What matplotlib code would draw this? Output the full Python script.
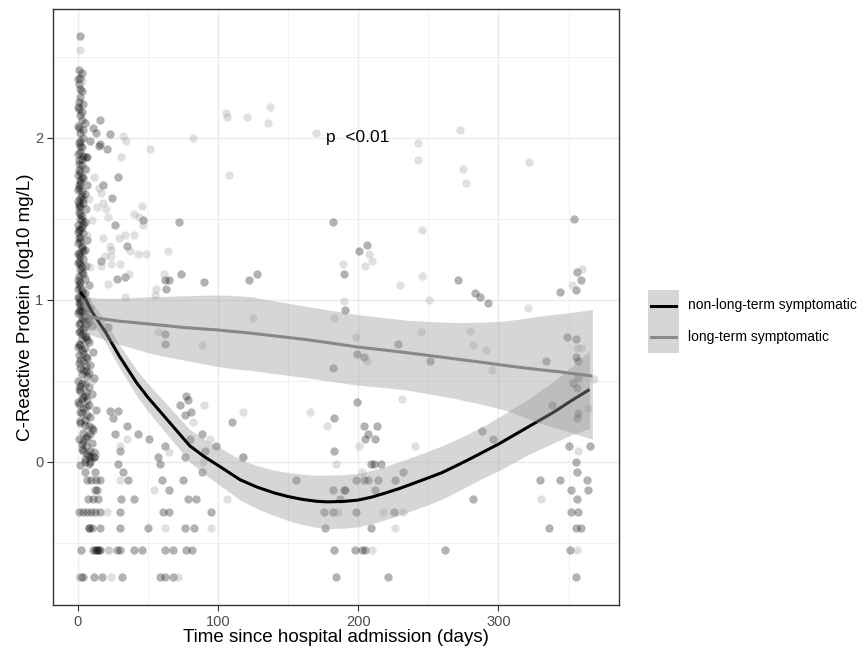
import matplotlib
matplotlib.use("Agg")
import matplotlib.pyplot as plt
from matplotlib.lines import Line2D
from matplotlib.patches import Rectangle

plt.rcParams["font.family"] = ["Liberation Sans", "DejaVu Sans"]

# CRP measurements (days since admission, log10 mg/L), non-long-term symptomatic
NLT_POINTS = [
    # early, dense column
    (2, 2.63), (1, 2.42), (3, 2.40), (2, 2.37), (1, 2.33), (3, 2.29), (2, 2.25), (1, 2.22),
    (4, 2.21), (1, 2.18), (2, 2.14), (3, 2.11), (5, 2.09), (1, 2.06), (4, 2.05), (2, 2.03),
    (4, 2.00), (2, 1.98), (1, 1.97), (3, 1.94), (2, 1.91), (0, 1.90), (6, 1.88), (3, 1.87),
    (1, 1.86), (3, 1.83), (5, 1.81), (1, 1.80), (2, 1.79), (0, 1.77), (4, 1.75), (2, 1.74),
    (2, 1.72), (7, 1.71), (1, 1.69), (0, 1.68), (3, 1.67), (5, 1.65), (2, 1.63), (4, 1.62),
    (0, 1.61), (4, 1.60), (2, 1.58), (1, 1.57), (6, 1.56), (1, 1.54), (3, 1.52), (2, 1.50),
    (3, 1.49), (5, 1.48), (0, 1.46), (3, 1.45), (1, 1.43), (0, 1.42), (4, 1.41), (2, 1.39),
    (7, 1.37), (2, 1.36), (0, 1.35), (3, 1.33), (5, 1.31), (4, 1.30), (1, 1.29), (2, 1.27),
    (4, 1.25), (1, 1.24), (0, 1.23), (6, 1.21), (3, 1.20), (2, 1.19), (3, 1.17), (1, 1.15),
    (5, 1.13), (0, 1.12), (2, 1.11), (8, 1.09), (2, 1.08), (0, 1.07), (3, 1.05), (5, 1.04),
    (4, 1.03), (1, 1.01), (6, 0.99), (1, 0.98), (2, 0.97), (4, 0.96), (9, 0.95), (2, 0.94),
    (3, 0.93), (0, 0.92), (6, 0.91), (5, 0.90), (3, 0.89), (7, 0.88), (8, 0.87), (2, 0.86),
    (1, 0.85), (10, 0.84), (5, 0.83), (4, 0.82), (1, 0.80), (3, 0.79), (6, 0.78), (3, 0.76),
    (7, 0.75), (8, 0.74), (2, 0.72), (0, 0.71), (5, 0.70), (11, 0.68), (4, 0.67), (1, 0.66),
    (7, 0.64), (2, 0.63), (4, 0.62), (9, 0.60), (6, 0.59), (2, 0.58), (6, 0.56), (8, 0.55),
    (3, 0.54), (12, 0.52), (0, 0.50), (3, 0.49), (5, 0.48), (8, 0.46), (1, 0.45), (2, 0.44),
    (10, 0.42), (5, 0.41), (4, 0.40), (7, 0.38), (0, 0.37), (1, 0.36), (6, 0.34), (4, 0.33),
    (13, 0.32), (3, 0.30), (7, 0.29), (9, 0.28), (5, 0.26), (2, 0.25), (2, 0.24), (8, 0.22),
    (10, 0.21), (11, 0.20), (4, 0.18), (7, 0.16), (6, 0.15), (1, 0.14), (10, 0.12), (3, 0.11),
    (6, 0.10), (3, 0.08), (9, 0.07), (12, 0.06), (8, 0.04), (12, 0.03), (5, 0.02), (9, 0.00),
    (5, 0.00), (2, -0.02),
    (0, 2.36), (2, 2.30), (0, 2.19), (3, 2.16), (0, 2.07), (2, 1.95), (4, 1.89), (1, 1.84),
    (3, 1.76), (1, 1.71), (3, 1.64), (1, 1.59), (2, 1.53), (4, 1.47), (2, 1.44), (1, 1.38),
    (3, 1.32), (0, 1.28), (2, 1.22), (4, 1.16), (1, 1.10), (3, 1.06), (0, 1.02), (2, 0.99),
    (5, 0.95), (1, 0.93), (4, 0.88), (6, 0.85), (2, 0.81), (5, 0.77), (1, 0.73), (3, 0.69),
    (6, 0.65), (1, 0.61), (4, 0.57), (7, 0.53), (2, 0.47), (6, 0.43), (3, 0.39), (8, 0.35),
    (2, 0.31), (5, 0.23), (9, 0.17), (4, 0.13), (7, 0.05),
    # early, values at the assay floor
    (3.8, 0.065), (9.8, 0.03), (11.4, 0.03), (8.5, -0.01), (5.5, -0.06), (12.6, -0.06),
    (6.7, -0.11), (9.5, -0.11), (13.3, -0.11), (15.7, -0.11), (12.1, -0.17), (14.2, -0.17),
    (7.1, -0.23), (11, -0.23), (14.5, -0.23), (0.7, -0.31), (3.8, -0.31), (6.7, -0.31),
    (9.5, -0.31), (12.6, -0.31), (15.7, -0.31), (8.5, -0.41), (8.5, -0.41), (10.2, -0.41),
    (15.7, -0.41), (2.6, -0.54), (10.7, -0.54), (12.6, -0.54), (13.8, -0.54), (13.8, -0.54),
    (15, -0.54), (16.2, -0.54), (2.4, -0.71), (3.8, -0.71), (11.4, -0.71), (17.4, -0.71),
    # follow-up
    (16, 2.11), (11, 2.06), (13, 2.03), (23, 2.02), (16, 1.96), (15, 1.95), (9, 1.98),
    (21, 1.93), (29, 1.76), (18.5, 1.71), (24.5, 1.63), (27, 1.46), (47, 1.49), (72, 1.48),
    (35, 1.33), (17, 1.24), (28, 1.13), (34, 1.14), (62, 1.12), (65.5, 1.12), (63, 1.07),
    (74, 1.16), (90, 1.11), (122, 1.12), (7, 1.88),
    (182, 1.48), (200.5, 1.30), (206.7, 1.34), (190, 1.16), (128, 1.16), (271, 1.12),
    (283, 1.04), (287, 1.02), (292.5, 0.98), (191, 0.94), (344, 1.05), (354, 1.50),
    (355, 1.06), (356, 1.17), (359, 1.12),
    (349, 0.77), (355, 0.76), (334, 0.62), (355, 0.65), (357, 0.62), (357, 0.52), (353, 0.49),
    (356, 0.455), (338, 0.35), (357, 0.30), (356, 0.27), (350, 0.10), (365, 0.10), (355, 0.0),
    (356, -0.06), (330, -0.11), (344, -0.11), (363, -0.11), (352, -0.17), (364, -0.17),
    (356, -0.23), (352, -0.31), (357, -0.31), (336, -0.41), (355, -0.41), (359, -0.41),
    (351, -0.54), (355, -0.71),
    (228.5, 0.73), (199, 0.665), (204, 0.65), (182, 0.58), (251.5, 0.62), (199.5, 0.37),
    (183, 0.27), (204, 0.22), (213.5, 0.22), (207, 0.17), (205, 0.14), (212, 0.14), (288, 0.19),
    (296, 0.14), (183, 0.066), (209.5, -0.01), (211, -0.01), (216, -0.01), (232, -0.06),
    (155.6, -0.11), (198.6, -0.11), (204, -0.11), (207.4, -0.11), (214.4, -0.11), (226.3, -0.11),
    (182, -0.17), (190, -0.17), (191, -0.17), (212, -0.17), (187, -0.23), (175.6, -0.31),
    (182, -0.31), (198.6, -0.31), (225.6, -0.31), (282, -0.23), (176.5, -0.41), (209, -0.41),
    (183, -0.54), (197.6, -0.54), (203, -0.54), (205, -0.54), (262, -0.54), (184.6, -0.71),
    (221.6, -0.71),
    (22, 0.83), (62.7, 0.79), (62.7, 0.73), (23, 0.315), (29, 0.315), (25.6, 0.27), (35, 0.22),
    (27, 0.17), (43, 0.17), (51, 0.14), (30, 0.07), (62, 0.10), (57, 0.03), (59, -0.01),
    (73, 0.35), (77.4, 0.41), (79, 0.38), (76.7, 0.29), (81, 0.31), (89, 0.17), (80, 0.14),
    (76.7, 0.03), (99, 0.10), (91, 0.07), (89, -0.06), (110, 0.245), (117.6, 0.03), (29, -0.01),
    (32.7, -0.06), (36, -0.11), (60, -0.11), (65, -0.17), (75, -0.11), (31, -0.23), (40.6, -0.23),
    (79, -0.23), (84.5, -0.23), (30.6, -0.31), (61, -0.31), (65, -0.31), (95, -0.31), (30, -0.41),
    (50, -0.41), (76.7, -0.41), (83, -0.41), (40, -0.54), (46, -0.54), (62.4, -0.54), (68, -0.54),
    (77.4, -0.54), (81.4, -0.54), (30.4, -0.54), (28, -0.54), (59, -0.71), (62.4, -0.71),
    (68, -0.71), (32, -0.71),
]

# CRP measurements, long-term symptomatic
LT_POINTS = [
    (1.5, 2.54), (3, 2.35), (6, 1.80), (8, 1.62), (7, 1.40), (9, 1.20), (5, 0.97), (2, 0.62),
    (10, 0.50), (6, 0.20), (13, 0.05),
    (32.3, 2.01), (34.6, 1.98), (51.7, 1.93), (31, 1.88), (82, 2.0), (105.6, 2.15),
    (106.8, 2.13), (120.6, 2.13), (108, 1.77), (12, 1.76), (16.6, 1.66), (15, 1.69),
    (18.5, 1.60), (13.8, 1.57), (20, 1.56), (22, 1.51), (40, 1.53), (45.8, 1.58), (44, 1.51),
    (47, 1.46), (10.2, 1.49), (18.5, 1.38), (29.2, 1.38), (34, 1.40), (40, 1.40), (37.5, 1.30),
    (23.3, 1.33), (24, 1.31), (43.4, 1.28), (49, 1.28), (64.8, 1.30), (19.7, 1.27), (23.7, 1.27),
    (16.4, 1.21), (24, 1.22), (30, 1.22), (37, 1.16), (22, 1.10), (61.7, 1.16), (34, 1.02),
    (56, 1.07), (55, 1.03),
    (137, 2.19), (135.5, 2.09), (170, 2.03), (242.7, 1.97), (242.7, 1.86), (272.4, 2.05),
    (274.7, 1.81), (276.6, 1.72), (321.5, 1.85), (245.8, 1.43), (207.6, 1.28), (204.8, 1.21),
    (210, 1.24), (188.9, 1.22), (229.7, 1.09), (245.8, 1.15), (250.5, 1.0), (321, 0.95),
    (189.8, 0.99), (359.4, 1.19), (352.3, 1.09), (125.3, 0.89), (183, 0.89),
    (198.6, 0.77), (245, 0.80), (279.5, 0.81), (282, 0.72), (291, 0.69), (206, 0.62),
    (295.6, 0.57), (368, 0.51), (117.7, 0.31), (166, 0.31), (231, 0.39), (177.5, 0.22),
    (200.5, 0.10), (240.8, 0.10), (184.6, -0.01), (202.8, -0.06), (117.2, 0.03), (185.8, -0.31),
    (217.8, -0.31), (232, -0.31), (226.3, -0.41), (210, -0.54), (356, 0.70), (359, 0.70),
    (357, 0.07), (363.7, 0.33), (330.5, -0.23), (356, -0.54),
    (57, 0.80), (88.8, 0.72), (35, 0.14), (30, 0.10), (65, 0.06), (90.4, 0.35), (82.6, 0.245),
    (94.4, 0.14), (89.7, 0.0), (30, -0.11), (54.8, -0.17), (106.3, -0.23), (20.9, -0.31),
    (62.2, -0.41), (95, -0.41), (21.6, -0.54), (22.1, -0.54), (71.9, -0.71), (24, -0.71),
    (0.7, -0.71),
]

# loess fits with 95% bands: day, fit, lower, upper
NLT_FIT_DAYS = [2, 6, 10, 15, 20, 25, 30, 36, 42, 50, 59, 70, 80, 90, 100, 108, 116, 128, 140,
                150, 160, 170, 178, 190, 200, 210, 220, 230, 240, 250, 260, 270, 280, 290, 300,
                310, 320, 330, 340, 352, 365]
NLT_FIT = [1.05, 1.00, 0.93, 0.865, 0.80, 0.725, 0.65, 0.57, 0.49, 0.40, 0.31, 0.20, 0.10, 0.035,
           -0.02, -0.065, -0.11, -0.155, -0.19, -0.213, -0.23, -0.242, -0.246, -0.243, -0.235,
           -0.216, -0.19, -0.162, -0.13, -0.098, -0.065, -0.023, 0.02, 0.065, 0.11, 0.16, 0.21,
           0.26, 0.31, 0.378, 0.447]
NLT_LOW = [0.99, 0.94, 0.87, 0.803, 0.735, 0.657, 0.58, 0.495, 0.41, 0.315, 0.22, 0.105, 0.00,
           -0.073, -0.135, -0.185, -0.235, -0.287, -0.33, -0.361, -0.385, -0.402, -0.411, -0.408,
           -0.40, -0.381, -0.355, -0.327, -0.295, -0.263, -0.23, -0.185, -0.14, -0.095, -0.055,
           -0.008, 0.04, 0.08, 0.12, 0.168, 0.207]
NLT_HIGH = [1.11, 1.06, 0.99, 0.927, 0.865, 0.793, 0.72, 0.645, 0.57, 0.485, 0.40, 0.295, 0.20,
            0.143, 0.095, 0.055, 0.015, -0.023, -0.05, -0.065, -0.075, -0.082, -0.081, -0.078,
            -0.07, -0.051, -0.025, 0.003, 0.035, 0.067, 0.10, 0.139, 0.18, 0.225, 0.275, 0.328,
            0.38, 0.44, 0.50, 0.588, 0.687]

LT_FIT_DAYS = [4, 16, 28, 40, 52, 64, 75, 87, 99, 111, 123, 143, 163, 181, 199, 217, 234, 252,
               270, 288, 305, 317, 329, 337, 345, 356, 367]
LT_FIT = [0.90, 0.885, 0.87, 0.86, 0.85, 0.84, 0.83, 0.822, 0.815, 0.805, 0.795, 0.775, 0.755,
          0.733, 0.71, 0.692, 0.675, 0.655, 0.635, 0.615, 0.595, 0.582, 0.57, 0.562, 0.555,
          0.542, 0.53]
LT_LOW = [0.80, 0.765, 0.73, 0.70, 0.67, 0.648, 0.63, 0.61, 0.59, 0.575, 0.565, 0.542, 0.52,
          0.497, 0.475, 0.46, 0.445, 0.418, 0.39, 0.356, 0.32, 0.28, 0.24, 0.22, 0.20, 0.17, 0.14]
LT_HIGH = [1.02, 1.01, 1.01, 1.015, 1.02, 1.022, 1.025, 1.028, 1.03, 1.027, 1.02, 0.99, 0.96,
           0.935, 0.91, 0.892, 0.875, 0.866, 0.86, 0.862, 0.87, 0.884, 0.90, 0.908, 0.915,
           0.927, 0.94]

GROUP_LABELS = ["non-long-term symptomatic", "long-term symptomatic"]
GROUP_COLORS = ["#000000", "#888888"]
POINT_COLORS = ["#000000", "#999999"]
BAND_COLOR = "#999999"

W, H = 868, 659
fig = plt.figure(figsize=(W / 100, H / 100), dpi=100)
ax = fig.add_axes([53 / W, 1 - 605 / H, (619 - 53) / W, (605 - 9.3) / H])

for pts, col in zip([NLT_POINTS, LT_POINTS], POINT_COLORS):
    xs = [p[0] for p in pts]
    ys = [p[1] for p in pts]
    ax.scatter(xs, ys, s=36, color=col, alpha=0.3, linewidths=0, zorder=2)

ax.fill_between(NLT_FIT_DAYS, NLT_LOW, NLT_HIGH, color=BAND_COLOR, alpha=0.4, linewidth=0, zorder=3)
ax.plot(NLT_FIT_DAYS, NLT_FIT, color=GROUP_COLORS[0], lw=2.2, zorder=4, solid_capstyle="butt",
        solid_joinstyle="round")
ax.fill_between(LT_FIT_DAYS, LT_LOW, LT_HIGH, color=BAND_COLOR, alpha=0.4, linewidth=0, zorder=5)
ax.plot(LT_FIT_DAYS, LT_FIT, color=GROUP_COLORS[1], lw=2.2, zorder=6, solid_capstyle="butt",
        solid_joinstyle="round")

ax.text(200, 2.0, "p  <0.01", ha="center", va="center", fontsize=12.5, color="black", zorder=7)

ax.set_xlim(-17.5, 386)
ax.set_ylim(-0.882, 2.792)
ax.set_xticks([0, 100, 200, 300])
ax.set_yticks([0, 1, 2])
ax.set_xticks([50, 150, 250, 350], minor=True)
ax.set_yticks([-0.5, 0.5, 1.5, 2.5], minor=True)
ax.grid(True, which="major", color="#ebebeb", lw=1.0, zorder=0)
ax.grid(True, which="minor", color="#ebebeb", lw=0.5, zorder=0)
ax.set_axisbelow(True)
ax.tick_params(which="major", length=4, width=0.8, color="#333333", labelcolor="#4d4d4d",
               labelsize=10.5, pad=3)
ax.tick_params(which="minor", length=0)
for sp in ax.spines.values():
    sp.set_color("#333333")
    sp.set_linewidth(1.0)

fig.text(336 / W, 1 - 637 / H, "Time since hospital admission (days)", ha="center", va="center",
         fontsize=13.5)
fig.text(26 / W, 1 - 307 / H, "C-Reactive Protein (log10 mg/L)", ha="center", va="center",
         rotation=90, fontsize=13.5)

# legend keys: band-coloured square with the fit line across it
for i, (label, col) in enumerate(zip(GROUP_LABELS, GROUP_COLORS)):
    top = 290 + i * 31.5
    fig.patches.append(Rectangle((648 / W, 1 - (top + 31.5) / H), 31 / W, 31.5 / H,
                                 transform=fig.transFigure, facecolor="#d6d6d6",
                                 edgecolor="none"))
    yc = 1 - (top + 15.5) / H
    fig.lines.append(Line2D([651 / W, 676 / W], [yc, yc], transform=fig.transFigure,
                            color=col, lw=2.2))
    fig.text(688 / W, yc, label, ha="left", va="center", fontsize=10)

fig.savefig("out.png", dpi=100)
